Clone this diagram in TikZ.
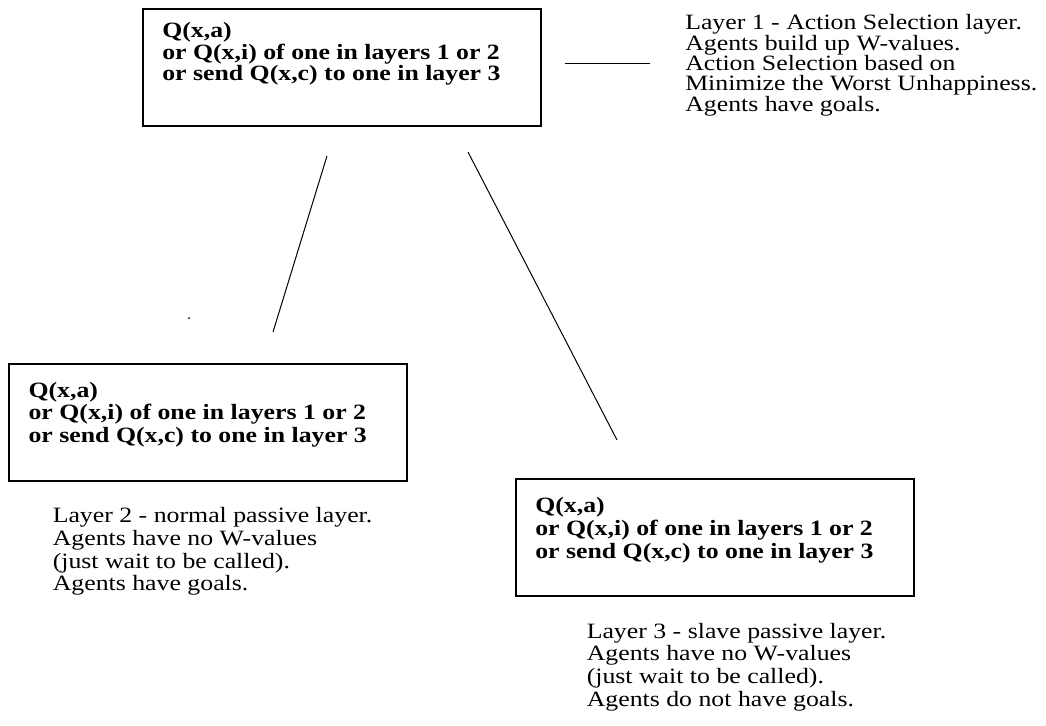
\documentclass[tikz,border=0pt]{standalone}
\usepackage{fontspec}
\setmainfont{Liberation Serif}[FakeStretch=1.18]

\tikzset{
  qbox/.style={draw, line width=1.5pt, inner sep=0pt,
    minimum width=298.5pt, minimum height=87.75pt},
  qtext/.style={anchor=north west, align=left, inner sep=0pt,
    font=\fontsize{16.4}{#1}\selectfont\bfseries},
  layertext/.style={anchor=north west, align=left, inner sep=0pt,
    font=\fontsize{16.4}{#1}\selectfont},
  link/.style={line width=0.75pt}
}

\begin{document}
\begin{tikzpicture}[x=0.75pt, y=-0.75pt]
  \useasboundingbox (0,0) rectangle (1046,725);

  % Layer 1: the box at the top
  \node[qbox] (box1) at (342,67.5) {};
  \node[qtext=16pt] (q1) at (162,22.3) {Q(x,a)\\or Q(x,i) of one in layers 1 or 2\\or send Q(x,c) to one in layer 3};
  \node[layertext=15.3pt] (note1) at (685,14.3) {Layer 1 - Action Selection layer.\\Agents build up W-values.\\Action Selection based on\\Minimize the Worst Unhappiness.\\Agents have goals.};

  % Layer 2: box on the left
  \node[qbox] (box2) at (208,422.5) {};
  \node[qtext=17pt] (q2) at (28.3,381.7) {Q(x,a)\\or Q(x,i) of one in layers 1 or 2\\or send Q(x,c) to one in layer 3};
  \node[layertext=16.9pt] (note2) at (52.5,507.5) {Layer 2 - normal passive layer.\\Agents have no W-values\\(just wait to be called).\\Agents have goals.};

  % Layer 3: box on the right
  \node[qbox] (box3) at (715,537) {};
  \node[qtext=17pt] (q3) at (535,497.3) {Q(x,a)\\or Q(x,i) of one in layers 1 or 2\\or send Q(x,c) to one in layer 3};
  \node[layertext=16.9pt] (note3) at (586.5,623) {Layer 3 - slave passive layer.\\Agents have no W-values\\(just wait to be called).\\Agents do not have goals.};

  % free-standing lines between the layers
  \coordinate (tick1a) at (565,63);
  \coordinate (tick1b) at (650,63);
  \coordinate (down2a) at (327,156);
  \coordinate (down2b) at (273,332);
  \coordinate (down3a) at (468,152);
  \coordinate (down3b) at (617,440);
  \draw[link] (tick1a) -- (tick1b);
  \draw[link] (down2a) -- (down2b);
  \draw[link] (down3a) -- (down3b);

  \fill (189,318) circle (1);
\end{tikzpicture}
\end{document}
